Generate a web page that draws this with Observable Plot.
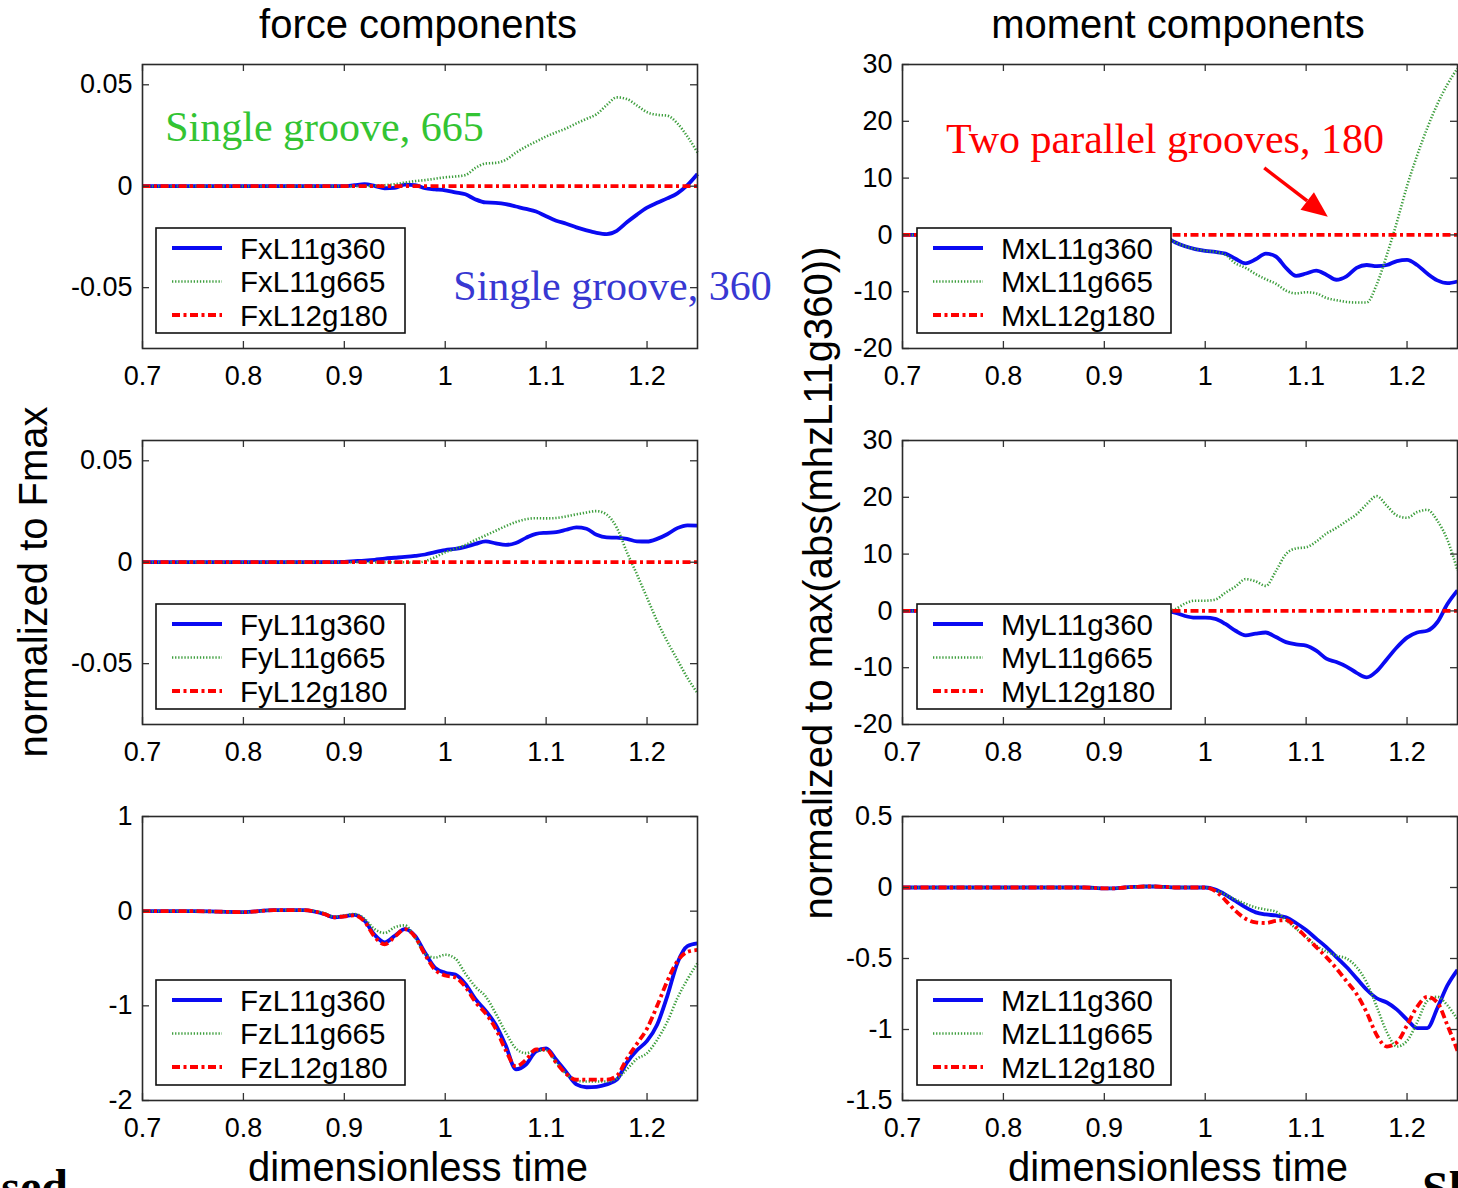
<!DOCTYPE html>
<html><head><meta charset="utf-8">
<script src="https://cdn.jsdelivr.net/npm/d3@7"></script>
<script src="https://cdn.jsdelivr.net/npm/@observablehq/plot@0.6"></script>
<style>
body{margin:0;background:#fff}
#page{position:relative;width:1458px;height:1188px;overflow:hidden;background:#fff}
#page svg{overflow:visible;max-width:none !important}
</style></head>
<body><div id="page"></div>
<script>
// ---------- data ----------
const T = [0.70,0.75,0.80,0.83,0.86,0.88,0.89,0.90,0.91,0.92,0.93,0.94,0.95,0.96,0.97,0.98,0.99,1.00,1.01,1.02,1.03,1.04,1.05,1.06,1.07,1.08,1.09,1.10,1.11,1.12,1.13,1.14,1.15,1.16,1.17,1.18,1.19,1.20,1.21,1.22,1.23,1.24,1.25];
const flatT = [0.70, 1.25];
const flatV = [0, 0];

const fx360 = [0,0,0,0,0,0,0,0,0.0005,0.001,0.0002,-0.001,-0.0008,0.0008,0.0005,-0.001,-0.0015,-0.002,-0.003,-0.004,-0.0065,-0.008,-0.0082,-0.0088,-0.01,-0.0112,-0.0125,-0.0148,-0.017,-0.0185,-0.0203,-0.0218,-0.023,-0.0236,-0.022,-0.0178,-0.014,-0.0106,-0.0082,-0.006,-0.0035,0.0005,0.006];
const fx665 = [0,0,0,0,0,0,0,0,0,0,0.0002,0.0005,0.001,0.0018,0.0025,0.003,0.0037,0.0044,0.0048,0.0055,0.009,0.0112,0.0115,0.013,0.0165,0.0195,0.022,0.0245,0.0266,0.0285,0.031,0.0332,0.0355,0.04,0.0438,0.043,0.0398,0.0365,0.0352,0.0348,0.031,0.0245,0.0166];
const fy360 = [0,0,0,0,0,0,0,0.0002,0.0005,0.0008,0.0012,0.0018,0.0022,0.0026,0.0031,0.0038,0.005,0.006,0.0066,0.0076,0.009,0.0103,0.0093,0.0085,0.0095,0.012,0.014,0.0145,0.0148,0.016,0.0172,0.0165,0.0135,0.0122,0.0121,0.0115,0.0103,0.0102,0.0115,0.0138,0.0168,0.0182,0.018];
const fy665 = [0,0,0,0,0,0,0,0,0,0,0,0,0,0,-0.0003,0.0005,0.0025,0.0049,0.0066,0.0085,0.011,0.0132,0.0155,0.0178,0.0198,0.0212,0.0217,0.0216,0.0218,0.0226,0.0236,0.0245,0.0252,0.0235,0.017,0.005,-0.006,-0.0175,-0.029,-0.039,-0.048,-0.057,-0.0645];
const fz360 = [0,0,-0.01,0.01,0.01,-0.03,-0.065,-0.055,-0.04,-0.1,-0.25,-0.33,-0.26,-0.19,-0.26,-0.44,-0.6,-0.65,-0.67,-0.77,-0.93,-1.05,-1.2,-1.42,-1.67,-1.62,-1.48,-1.45,-1.57,-1.7,-1.83,-1.86,-1.855,-1.83,-1.78,-1.6,-1.47,-1.37,-1.2,-0.9,-0.55,-0.37,-0.34];
const fz665 = [0,0,-0.01,0.01,0.01,-0.02,-0.06,-0.045,-0.03,-0.08,-0.19,-0.23,-0.17,-0.15,-0.28,-0.45,-0.49,-0.46,-0.5,-0.66,-0.8,-0.9,-1.08,-1.28,-1.45,-1.5,-1.47,-1.47,-1.6,-1.72,-1.79,-1.8,-1.8,-1.8,-1.77,-1.67,-1.56,-1.5,-1.36,-1.17,-0.92,-0.72,-0.55];
const fz180 = [0,0,-0.01,0.01,0.01,-0.03,-0.065,-0.055,-0.045,-0.11,-0.27,-0.35,-0.27,-0.19,-0.27,-0.46,-0.62,-0.68,-0.7,-0.8,-0.96,-1.08,-1.24,-1.47,-1.64,-1.57,-1.46,-1.46,-1.6,-1.72,-1.78,-1.78,-1.78,-1.78,-1.74,-1.56,-1.4,-1.24,-1.0,-0.74,-0.53,-0.43,-0.41];
const mx360 = [0,0,0,0,0,0,0,0,0,0,0,0,0,-0.3,-1.3,-2.0,-2.5,-2.8,-3.0,-3.3,-4.2,-5.0,-4.3,-3.3,-3.8,-5.8,-7.2,-6.8,-6.3,-7.0,-7.9,-7.3,-5.8,-5.3,-5.5,-5.3,-4.6,-4.4,-5.3,-6.8,-8.0,-8.5,-8.2];
const mx665 = [0,0,0,0,0,0,0,0,0,0,0,0,0,-0.3,-1.3,-2.0,-2.5,-2.8,-3.0,-3.5,-5.0,-5.8,-6.9,-7.8,-8.6,-9.8,-10.3,-10.1,-10.3,-11.1,-11.5,-11.8,-11.9,-11.9,-8.7,-3.5,2.3,8.6,14.0,18.8,23.0,26.5,29.3];
const my360 = [0,0,0,0,0,0,0,0,0,0,0,0,0,0,-0.3,-0.9,-1.2,-1.2,-1.4,-2.3,-3.5,-4.3,-4.0,-3.8,-4.6,-5.5,-5.9,-6.1,-7.0,-8.4,-9.0,-9.8,-10.9,-11.7,-10.6,-8.5,-6.4,-4.7,-3.8,-3.5,-2.0,1.2,3.6];
const my665 = [0,0,0,0,0,0,0,0,0,0,0,0,0,0,0.3,1.3,1.8,1.8,2.0,3.2,4.3,5.6,5.2,4.4,7.0,10.0,11.0,11.2,12.2,13.6,14.6,15.8,17.0,18.8,20.2,18.5,16.8,16.4,17.4,17.8,15.9,12.5,7.1];
const mz360 = [0,0,0,0,0,0,-0.003,-0.006,-0.006,0,0.004,0.007,0.007,0.004,0,0,0,0,-0.015,-0.05,-0.095,-0.14,-0.175,-0.19,-0.197,-0.21,-0.25,-0.3,-0.36,-0.42,-0.49,-0.56,-0.64,-0.72,-0.78,-0.81,-0.86,-0.93,-0.99,-0.99,-0.85,-0.69,-0.58];
const mz665 = [0,0,0,0,0,0,-0.003,-0.006,-0.006,0,0.004,0.007,0.007,0.004,0,0,0,0,-0.02,-0.05,-0.085,-0.115,-0.14,-0.155,-0.17,-0.23,-0.29,-0.35,-0.41,-0.45,-0.48,-0.5,-0.56,-0.67,-0.84,-1.02,-1.12,-1.08,-0.95,-0.8,-0.77,-0.83,-0.93];
const mz180 = [0,0,0,0,0,0,-0.003,-0.006,-0.006,0,0.004,0.007,0.007,0.004,0,0,0,0,-0.025,-0.09,-0.165,-0.22,-0.245,-0.25,-0.235,-0.23,-0.28,-0.35,-0.42,-0.49,-0.57,-0.66,-0.75,-0.88,-1.04,-1.12,-1.09,-0.97,-0.84,-0.77,-0.81,-0.97,-1.15];

const xTicks = [0.7, 0.8, 0.9, 1, 1.1, 1.2];
const forceTicks = [-0.05, 0, 0.05];
const fzTicks = [-2, -1, 0, 1];
const momentTicks = [-20, -10, 0, 10, 20, 30];
const mzTicks = [-1.5, -1, -0.5, 0, 0.5];
const caseNames = ["L11g360", "L11g665", "L12g180"];
const columnTitles = ["force components", "moment components"];
const yTitles = ["normalized to Fmax", "normalized to max(abs(mhzL11g360))"];
const xTitle = "dimensionless time";
const annotationTexts = [
  {panel: 0, text: "Single groove, 665", t: 0.723, v: 0.022, color: "#33c433"},
  {panel: 0, text: "Single groove, 360", t: 1.0085, v: -0.0564, color: "#3838d2"},
  {panel: 3, text: "Two parallel grooves, 180", t: 0.7436, v: 14.4, color: "#ff0000"}
];
const arrowAnno = {panel: 3, from: [1.059, 11.7], to: [1.122, 3.1]};

// ---------- layout ----------
const FW = 555, FH = 284, ML = 100, MR = 12, MT = 10, MB = 50;
const colX = [142, 902], rowY = [64, 440, 816];
const STY = [
  {stroke: "#0a0af2", strokeWidth: 3.8},
  {stroke: "#3d9e3d", strokeWidth: 2.6, strokeDasharray: "1.3,1.8"},
  {stroke: "#ff0000", strokeWidth: 3.8, strokeDasharray: "8,3.5,3,3.5"}
];
const panels = [
  {col: 0, row: 0, name: "Fx", yDomain: [-0.08, 0.06], yTicks: forceTicks, series: [[T, fx360], [T, fx665], [flatT, flatV]]},
  {col: 0, row: 1, name: "Fy", yDomain: [-0.08, 0.06], yTicks: forceTicks, series: [[T, fy360], [T, fy665], [flatT, flatV]]},
  {col: 0, row: 2, name: "Fz", yDomain: [-2, 1], yTicks: fzTicks, series: [[T, fz360], [T, fz665], [T, fz180]]},
  {col: 1, row: 0, name: "Mx", yDomain: [-20, 30], yTicks: momentTicks, series: [[T, mx360], [T, mx665], [flatT, flatV]]},
  {col: 1, row: 1, name: "My", yDomain: [-20, 30], yTicks: momentTicks, series: [[T, my360], [T, my665], [flatT, flatV]]},
  {col: 1, row: 2, name: "Mz", yDomain: [-1.5, 0.5], yTicks: mzTicks, series: [[T, mz360], [T, mz665], [T, mz180]]}
];

const page = d3.select("#page");
const fmt = d => String(+d.toFixed(3));
const scales = [];

panels.forEach(p => {
  const fx = colX[p.col], fy = rowY[p.row];
  const [y0, y1] = p.yDomain;
  const dx = 0.55 * 7 / FW, dy = (y1 - y0) * 7 / FH;
  const lines = p.series.map(([tt, vv], i) =>
    Plot.line(tt.map((t, j) => ({t, v: vv[j]})),
      {x: "t", y: "v", curve: "monotone-x", strokeLinecap: "butt", strokeLinejoin: "round", ...STY[i]}));
  const tickStyle = {stroke: "#333", strokeWidth: 1.3};
  const W = ML + FW + MR, H = MT + FH + MB;
  const chart = Plot.plot({
    width: W, height: H,
    marginLeft: ML, marginRight: MR, marginTop: MT, marginBottom: MB,
    style: {fontFamily: "'Liberation Sans', Arial, sans-serif", fontSize: "27px", color: "#000", background: "transparent", overflow: "visible", maxWidth: "none"},
    x: {domain: [0.7, 1.25], label: null},
    y: {domain: p.yDomain, label: null},
    marks: [
      ...lines,
      Plot.ruleX(xTicks, {x: d => d, y1: y0, y2: y0 + dy, ...tickStyle}),
      Plot.ruleX(xTicks, {x: d => d, y1: y1 - dy, y2: y1, ...tickStyle}),
      Plot.ruleY(p.yTicks, {y: d => d, x1: 0.7, x2: 0.7 + dx, ...tickStyle}),
      Plot.ruleY(p.yTicks, {y: d => d, x1: 1.25 - dx, x2: 1.25, ...tickStyle}),
      Plot.frame({stroke: "#2a2a2a", strokeWidth: 1.6}),
      Plot.axisX({ticks: xTicks, tickSize: 0, tickPadding: 17, tickFormat: fmt, label: null, fill: "#000"}),
      Plot.axisY({ticks: p.yTicks, tickSize: 0, tickPadding: 10, tickFormat: fmt, label: null, fill: "#000"})
    ]
  });
  page.append("div").style("position", "absolute")
    .style("left", (fx - ML) + "px").style("top", (fy - MT) + "px")
    .style("width", W + "px").style("height", H + "px")
    .node().appendChild(chart);
  const sx = chart.scale("x"), sy = chart.scale("y");
  const X = d3.scaleLinear(sx.domain, sx.range), Y = d3.scaleLinear(sy.domain, sy.range);
  scales.push({px: t => fx - ML + X(t), py: v => fy - MT + Y(v), fx, fy});
});

// ---------- overlay: titles, labels, legends, annotations ----------
const ov = page.append("svg").attr("width", 1458).attr("height", 1188)
  .style("position", "absolute").style("left", 0).style("top", 0)
  .style("font-family", "'Liberation Sans', Arial, sans-serif");

const colCenter = [418, 1178];
columnTitles.forEach((t, i) => ov.append("text").attr("x", colCenter[i]).attr("y", 38)
  .attr("text-anchor", "middle").attr("font-size", 40).text(t));
[0, 1].forEach(i => ov.append("text").attr("x", colCenter[i]).attr("y", 1181)
  .attr("text-anchor", "middle").attr("font-size", 40).text(xTitle));
const yTitlePos = [[47, 582], [832, 583]];
yTitles.forEach((t, i) => ov.append("text")
  .attr("transform", `translate(${yTitlePos[i][0]},${yTitlePos[i][1]}) rotate(-90)`)
  .attr("text-anchor", "middle").attr("font-size", 40).text(t));

// legends
panels.forEach((p, k) => {
  const s = scales[k];
  const bx = s.fx + (p.col === 0 ? 14 : 15), by = s.fy + 164;
  const bw = p.col === 0 ? 249 : 254, bh = 105;
  const g = ov.append("g");
  g.append("rect").attr("x", bx).attr("y", by).attr("width", bw).attr("height", bh)
    .attr("fill", "#fff").attr("stroke", "#111").attr("stroke-width", 1.6);
  caseNames.forEach((c, i) => {
    const cy = by + 20 + i * 33.5;
    const st = STY[i];
    g.append("line").attr("x1", bx + 16).attr("x2", bx + 66).attr("y1", cy).attr("y2", cy)
      .attr("stroke", st.stroke).attr("stroke-width", st.strokeWidth)
      .attr("stroke-dasharray", st.strokeDasharray || null);
    g.append("text").attr("x", bx + 84).attr("y", cy + 10.5).attr("font-size", 29.5).text(p.name + c);
  });
});

// annotations
annotationTexts.forEach(a => {
  const s = scales[a.panel];
  ov.append("text").attr("x", s.px(a.t)).attr("y", s.py(a.v))
    .attr("font-family", "'Liberation Serif', 'Times New Roman', serif").attr("font-size", 42)
    .attr("fill", a.color).text(a.text);
});
{
  const s = scales[arrowAnno.panel];
  const x1 = s.px(arrowAnno.from[0]), y1 = s.py(arrowAnno.from[1]);
  const x2 = s.px(arrowAnno.to[0]), y2 = s.py(arrowAnno.to[1]);
  const ang = Math.atan2(y2 - y1, x2 - x1), L = 26, Wd = 11;
  const bxp = x2 - L * Math.cos(ang), byp = y2 - L * Math.sin(ang);
  ov.append("line").attr("x1", x1).attr("y1", y1).attr("x2", bxp).attr("y2", byp)
    .attr("stroke", "#ff0000").attr("stroke-width", 3.5);
  ov.append("polygon").attr("fill", "#ff0000").attr("points", [
    [x2, y2],
    [bxp + Wd * Math.sin(ang), byp - Wd * Math.cos(ang)],
    [bxp - Wd * Math.sin(ang), byp + Wd * Math.cos(ang)]
  ].map(q => q.join(",")).join(" "));
}

// page fragments at the bottom corners (cropped text of the source page)
ov.append("text").attr("x", 68).attr("y", 1203).attr("text-anchor", "end")
  .attr("font-family", "'Liberation Serif', serif").attr("font-size", 48).attr("font-weight", "bold").text("sed");
ov.append("text").attr("x", 1422).attr("y", 1205)
  .attr("font-family", "'Liberation Serif', serif").attr("font-size", 48).attr("font-weight", "bold").text("Sl");
</script></body></html>
